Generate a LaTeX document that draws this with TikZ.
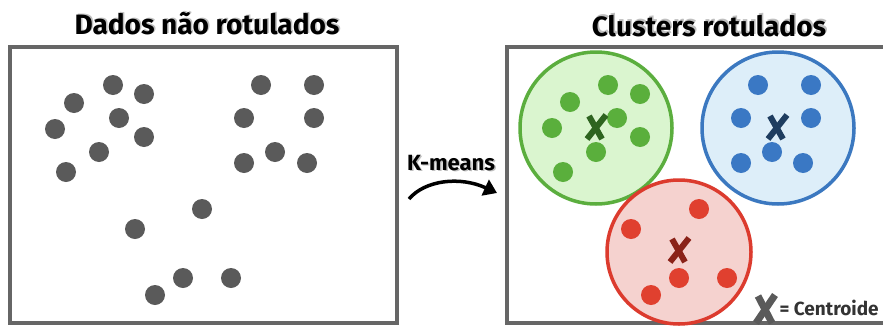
\documentclass[tikz,border=0pt]{standalone}
\usepackage{fontspec}
\setmainfont{Fira Sans}
\usetikzlibrary{arrows.meta,calc}
\definecolor{boxgray}{HTML}{666666}
\definecolor{dotgray}{HTML}{5A5A5A}
\definecolor{gline}{HTML}{5BAE3E}
\definecolor{gfill}{HTML}{DAF5CF}
\definecolor{gdot}{HTML}{5AAF3C}
\definecolor{gx}{HTML}{2E6420}
\definecolor{bline}{HTML}{3B78C0}
\definecolor{bfill}{HTML}{DDEEF9}
\definecolor{bdot}{HTML}{3A78C4}
\definecolor{bx}{HTML}{1E3D60}
\definecolor{rline}{HTML}{DC3B2E}
\definecolor{rfill}{HTML}{F5D2CF}
\definecolor{rdot}{HTML}{E0402F}
\definecolor{rx}{HTML}{8A2218}
\tikzset{
  frame/.style={draw=boxgray,line width=4.5pt},
  dot/.style={circle,inner sep=0pt,minimum size=20pt,fill=#1},
  cluster/.style={circle,inner sep=0pt,line width=3.5pt},
  title/.style={font=\bfseries\fontsize{28}{30}\selectfont},
  xmark/.style={line width=6pt,draw=#1},
}
\newcommand{\shadowtext}[3]{%
  \node[title,text=black!25] at ($(#1)+(1.5,-1.5)$) {#3};
  \node[title] (#2) at (#1) {#3};}
\begin{document}
\begin{tikzpicture}[x=1pt,y=-1pt]
\useasboundingbox (0,0) rectangle (883,327);
\clip (0,0) rectangle (883,327);
\fill[white] (0,0) rectangle (883,327);
% titles
\coordinate (t1) at (207,24);
\coordinate (t2) at (709,26);
\shadowtext{t1}{title1}{Dados não rotulados}
\shadowtext{t2}{title2}{Clusters rotulados}
% frames
\draw[frame] (10,47) rectangle (397,323);
\draw[frame] (507,47) rectangle (900,323);
% gray dots
\foreach \x/\y [count=\i] in {113/85,144/94,74/103,119/118,55/129,144/137,99/152,66/172,
  261/85,314/85,244/118,314/118,275/152,244/163,307/163,
  202/209,135/229,183/278,231/278,155/295}
  \node[dot=dotgray] (g\i) at (\x,\y) {};
% clusters
\node[cluster,draw=gline,fill=gfill,minimum size=152pt] (cg) at (596,128) {};
\node[cluster,draw=bline,fill=bfill,minimum size=152pt] (cb) at (778,128) {};
\node[cluster,draw=rline,fill=rfill,minimum size=144pt] (cr) at (679,252) {};
\foreach \x/\y [count=\i] in {608/85,640/94,570/102,617/118,552/128,640/137,596/152,563/172}
  \node[dot=gdot] (gd\i) at (\x,\y) {};
\foreach \x/\y [count=\i] in {758/85,811/85,741/118,811/118,772/152,741/163,803/163}
  \node[dot=bdot] (bd\i) at (\x,\y) {};
\foreach \x/\y [count=\i] in {699/209,631/229,679/278,727/278,651/295}
  \node[dot=rdot] (rd\i) at (\x,\y) {};
% centroids
\coordinate (xg) at (596,127);
\coordinate (xb) at (777,127);
\coordinate (xr) at (679,250);
\foreach \c/\col in {xg/gx,xb/bx,xr/rx}{
  \draw[xmark=\col] ($(\c)+(-7,-11)$) -- ($(\c)+(6,12)$);
  \draw[xmark=\col] ($(\c)+(10,-12)$) -- ($(\c)+(-9,12)$);
}
\coordinate (xl) at (765,309);
\draw[xmark=dotgray,line width=7pt] ($(xl)+(-7,-13)$) -- ($(xl)+(7,14)$);
\draw[xmark=dotgray,line width=7pt] ($(xl)+(10,-14)$) -- ($(xl)+(-9,14)$);
\node[anchor=west,font=\bfseries\fontsize{19}{21}\selectfont,text=black!80] (leg) at (776,308) {= Centroide};
% k-means arrow
\node[font=\bfseries\fontsize{22}{24}\selectfont,text=black!25] at (452.5,164.5) {K-means};
\node[font=\bfseries\fontsize{22}{24}\selectfont] (km) at (451,163) {K-means};
\coordinate (a1) at (409,199);
\coordinate (a2) at (497,193);
\draw[line width=3.5pt,-{Triangle[length=13pt,width=17pt]}] (a1) .. controls (425,180) and (460,176) .. (a2);
\end{tikzpicture}
\end{document}
